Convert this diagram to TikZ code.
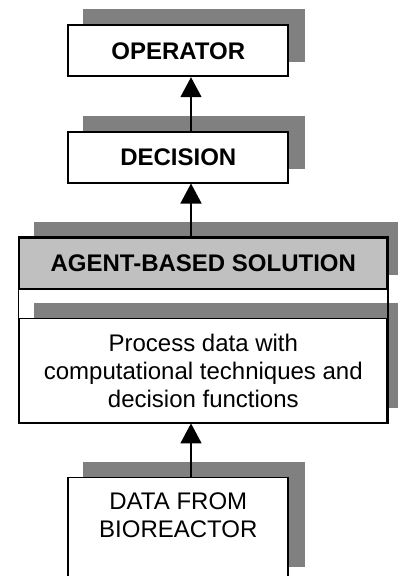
\documentclass[tikz,border=0pt]{standalone}
\usepackage{fontspec}
\setmainfont{Liberation Sans}
\usetikzlibrary{arrows.meta}
\usetikzlibrary{shadows}
\usetikzlibrary{positioning}
\definecolor{shadowgray}{HTML}{808080}
\definecolor{headgray}{HTML}{C0C0C0}
\tikzstyle{shadowed} = [general shadow={fill=shadowgray, draw=shadowgray, line width=1.8pt,
shadow xshift=16pt, shadow yshift=15pt}]
\tikzstyle{smallblock} = [rectangle, minimum width=220pt, minimum height=51pt, text centered, draw=black,
line width=1.8pt, fill=white, align=center, font=\fontsize{24}{28}\selectfont, shadowed]
\tikzstyle{wideblock} = [rectangle, minimum width=368pt, minimum height=51pt, text centered, draw=black,
line width=1.8pt, fill=white, align=center, font=\fontsize{24}{28}\selectfont, shadowed]
\tikzstyle{arrow} = [line width=1.5pt,-{Triangle[length=20pt,width=21pt]}]

\begin{document}
\begin{tikzpicture}[node distance=53.5pt]
  \useasboundingbox (0,0) rectangle (398pt,-576pt);
  \coordinate (axis) at (191pt,0);
  \node (operator) [smallblock] at (178.3pt,-50.8pt) {\bfseries OPERATOR};
  \node (decision) [smallblock, below=of operator] {\bfseries DECISION};
  \node (agent) [wideblock, below=of decision, xshift=25pt, fill=headgray] {\bfseries AGENT-BASED SOLUTION};
  \node (process) [wideblock, below=27.8pt of agent, minimum height=104pt] {Process data with\\computational techniques and\\decision functions};
  \node (data) [smallblock, below=53.2pt of process, xshift=-25pt, minimum height=104pt] {DATA FROM\\BIOREACTOR\\\mbox{}};
  \draw [line width=1.5pt] (agent.north west) rectangle (process.south east);
  \draw [arrow] (decision.north -| axis) -- (operator.south -| axis);
  \draw [arrow] (agent.north -| axis) -- (decision.south -| axis);
  \draw [arrow] (data.north -| axis) -- (process.south -| axis);
\end{tikzpicture}
\end{document}
